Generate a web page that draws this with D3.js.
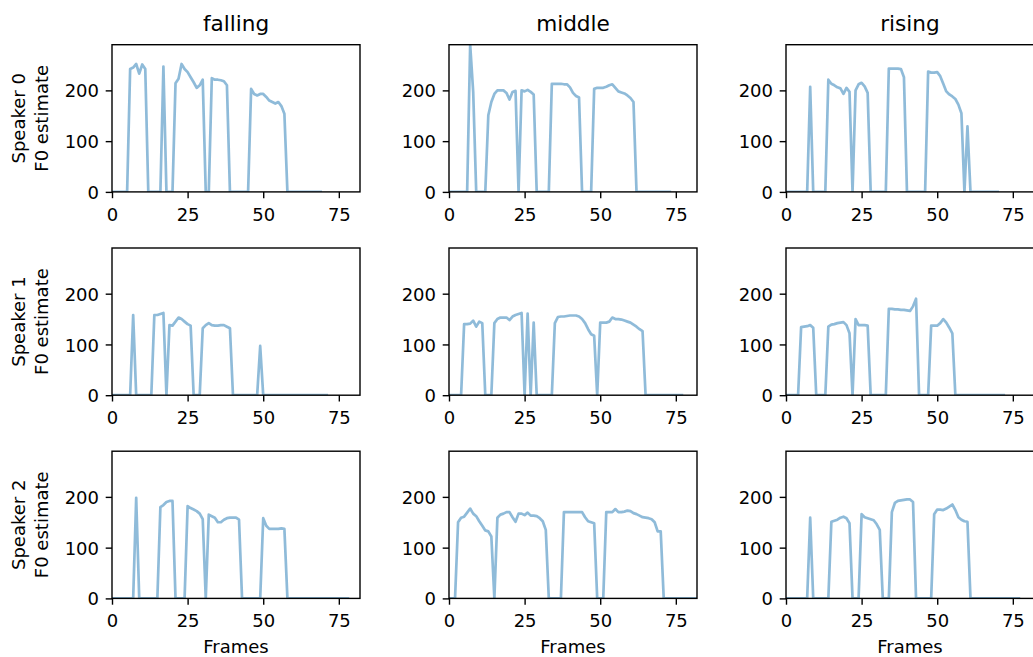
<!DOCTYPE html>
<html><head><meta charset="utf-8">
<script src="https://cdn.jsdelivr.net/npm/d3@7"></script>
<style>body{margin:0;background:#fff} svg{display:block}</style>
</head><body>
<svg id="chart" width="1033" height="657"></svg>
<script>
const contours = ["falling", "middle", "rising"];
const speakers = ["Speaker 0", "Speaker 1", "Speaker 2"];
const xTicks = [0, 25, 50, 75];
const yTicks = [0, 100, 200];
const xLabel = "Frames";
const yLabelSuffix = "F0 estimate";

const f0_s0_falling = [0,0,0,0,0,0,242,245,252,233,251,242,0,0,0,0,0,247,0,0,0,214,223,252,242,236,226,216,205,210,221,0,0,224,221,221,220,218,210,0,0,0,0,0,0,0,203,193,190,193,193,187,180,177,174,177,169,154,0,0,0,0,0,0,0,0,0,0,0,0];
const f0_s0_middle = [0,0,0,0,0,0,0,290,197,0,0,0,0,151,177,193,200,200,200,195,182,197,199,0,200,198,201,197,192,0,0,0,0,0,213,213,213,213,212,212,206,195,189,186,0,0,0,0,203,205,205,205,207,210,212,205,198,196,194,190,185,177,0,0,0,0,0,0,0,0,0,0,0,0];
const f0_s0_rising = [0,0,0,0,0,0,0,0,207,0,0,0,0,0,221,213,210,206,204,193,205,197,0,200,212,215,208,195,0,0,0,0,0,0,243,243,243,243,242,226,0,0,0,0,0,0,0,237,235,235,236,228,213,198,192,188,183,172,155,0,129,0,0,0,0,0,0,0,0,0,0];

const f0_s1_falling = [0,0,0,0,0,0,0,158,0,0,0,0,0,0,158,158,160,162,0,138,137,145,153,150,145,140,137,0,0,0,132,138,142,138,137,137,138,138,135,132,0,0,0,0,0,0,0,0,0,97,0,0,0,0,0,0,0,0,0,0,0,0,0,0,0,0,0,0,0,0,0,0];
const f0_s1_middle = [0,0,0,0,0,140,140,141,147,135,145,142,0,0,0,142,150,153,153,153,148,155,158,160,162,0,161,0,143,0,0,0,0,0,0,142,154,155,155,156,157,157,157,155,150,142,130,120,117,0,143,143,143,145,153,150,150,149,147,145,143,139,135,130,126,0,0,0,0,0,0,0,0,0,0,0,0,0];
const f0_s1_rising = [0,0,0,0,0,134,135,136,138,133,0,0,0,0,135,139,140,142,143,144,138,122,0,150,138,138,138,137,0,0,0,0,0,0,170,170,169,169,168,168,167,166,175,190,0,0,0,0,137,137,137,142,150,143,133,122,0,0,0,0,0,0,0,0,0,0,0,0,0,0,0,0,0];

const f0_s2_falling = [0,0,0,0,0,0,0,0,198,0,0,0,0,0,0,0,180,184,190,192,192,0,0,0,0,182,178,175,172,167,156,0,165,162,159,150,150,155,158,159,159,159,155,0,0,0,0,0,0,0,158,143,137,137,137,137,138,137,0,0,0,0,0,0,0,0,0,0,0,0,0,0,0,0,0,0,0,0,0];
const f0_s2_middle = [0,0,0,150,159,161,169,177,167,162,152,143,134,132,122,0,159,165,167,170,170,160,151,167,167,164,169,163,163,162,158,152,135,0,0,0,0,0,170,170,170,170,170,170,170,160,152,150,148,0,0,0,170,170,170,176,170,170,171,173,172,168,166,163,160,159,158,156,150,132,132,0,0,0,0,0,0,0,0,0,0,0,0];
const f0_s2_rising = [0,0,0,0,0,0,0,0,159,0,0,0,0,0,0,151,153,155,159,161,158,148,0,0,0,166,160,158,156,154,146,135,0,0,0,170,188,192,193,194,195,195,190,0,0,0,0,0,0,166,175,175,174,177,181,185,174,160,155,152,151,0,0,0,0,0,0,0,0,0,0,0,0,0,0,0,0,0];

const grid = [
  [f0_s0_falling, f0_s0_middle, f0_s0_rising],
  [f0_s1_falling, f0_s1_middle, f0_s1_rising],
  [f0_s2_falling, f0_s2_middle, f0_s2_rising]
];

const colLeft = [112, 449, 786];
const rowTop = [44.7, 248, 451.2];
const pw = 248, ph = 147.2;
const FONT = "DejaVu Sans";
const svg = d3.select("#chart");

const x = d3.scaleLinear().domain([0, 82]).range([0, pw]);
const y = d3.scaleLinear().domain([0, 290]).range([ph, 0]);
const line = d3.line().x((d, i) => x(i)).y(d => y(d));

grid.forEach((rowData, r) => {
  rowData.forEach((data, c) => {
    const g = svg.append("g").attr("transform", `translate(${colLeft[c]},${rowTop[r]})`);
    const cid = `clip-${r}-${c}`;
    g.append("clipPath").attr("id", cid).append("rect").attr("width", pw).attr("height", ph);

    g.append("path").datum(data)
      .attr("clip-path", `url(#${cid})`)
      .attr("d", line)
      .attr("fill", "none")
      .attr("stroke", "#1f77b4")
      .attr("stroke-opacity", 0.5)
      .attr("stroke-width", 2.7)
      .attr("stroke-linejoin", "round")
      .attr("stroke-linecap", "square");

    g.append("rect").attr("width", pw).attr("height", ph)
      .attr("fill", "none").attr("stroke", "#000").attr("stroke-width", 1.4);

    const xa = g.append("g").attr("transform", `translate(0,${ph})`)
      .call(d3.axisBottom(x).tickValues(xTicks).tickFormat(d3.format("d")).tickSize(6.3).tickSizeOuter(0).tickPadding(9.9));
    xa.select(".domain").remove();
    xa.selectAll(".tick line").attr("stroke", "#000").attr("stroke-width", 1.4);
    xa.selectAll(".tick text").attr("font-family", FONT).attr("font-size", 18).attr("fill", "#000");

    const ya = g.append("g")
      .call(d3.axisLeft(y).tickValues(yTicks).tickFormat(d3.format("d")).tickSize(6.3).tickSizeOuter(0).tickPadding(6.7));
    ya.select(".domain").remove();
    ya.selectAll(".tick line").attr("stroke", "#000").attr("stroke-width", 1.4);
    ya.selectAll(".tick text").attr("font-family", FONT).attr("font-size", 18).attr("fill", "#000").attr("dy", "0.365em");

    if (r === 0) {
      g.append("text").attr("x", pw / 2).attr("y", -13.7)
        .attr("text-anchor", "middle").attr("font-family", FONT).attr("font-size", 21.6).attr("fill", "#000")
        .text(contours[c]);
    }
    if (r === grid.length - 1) {
      g.append("text").attr("x", pw / 2).attr("y", ph + 54.5)
        .attr("text-anchor", "middle").attr("font-family", FONT).attr("font-size", 18).attr("fill", "#000")
        .text(xLabel);
    }
    if (c === 0) {
      const t = g.append("text")
        .attr("transform", `translate(${25 - colLeft[0]},${ph / 2}) rotate(-90)`)
        .attr("text-anchor", "middle").attr("font-family", FONT).attr("font-size", 18).attr("fill", "#000");
      t.append("tspan").attr("x", 0).attr("dy", 0).text(speakers[r]);
      t.append("tspan").attr("x", 0).attr("dy", 23).text(yLabelSuffix);
    }
  });
});
</script>
</body></html>
